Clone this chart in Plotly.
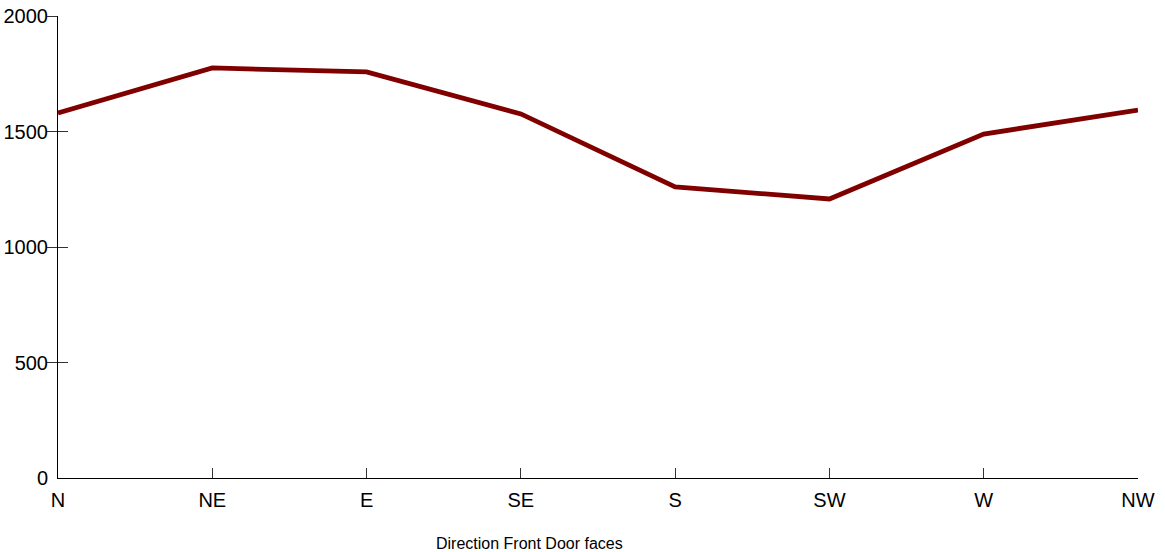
import plotly.graph_objects as go

directions = ["N", "NE", "E", "SE", "S", "SW", "W", "NW"]
values = [1580, 1775, 1758, 1576, 1260, 1208, 1489, 1593]
y_tick_vals = [0, 500, 1000, 1500, 2000]
y_tick_text = ["0", "500", "1000", "1500", "2000"]
y_mark_vals = [500, 1000, 1500, 2000]
x_title = "Direction Front Door faces"

FONT = "Liberation Sans, Arial, sans-serif"

fig = go.Figure()
fig.add_trace(go.Scatter(
    x=directions, y=values, mode="lines",
    line=dict(color="#800000", width=4.8),
    hoverinfo="x+y", showlegend=False,
))
# invisible helper traces so the overlay axes are drawn
fig.add_trace(go.Scatter(x=directions, y=values, yaxis="y2", mode="lines",
                         line=dict(width=0), opacity=0, hoverinfo="skip", showlegend=False))
fig.add_trace(go.Scatter(x=directions, y=values, yaxis="y3", mode="lines",
                         line=dict(width=0), opacity=0, hoverinfo="skip", showlegend=False))

fig.update_layout(
    width=1165, height=552,
    margin=dict(l=58, r=27, t=16, b=74, autoexpand=False),
    paper_bgcolor="white", plot_bgcolor="white",
    font=dict(family=FONT, size=20, color="black"),
    xaxis=dict(
        type="category", range=[0, len(directions) - 1], automargin=False,
        showgrid=False, zeroline=False,
        showline=True, linecolor="black", linewidth=1,
        ticks="inside", ticklen=10, tickcolor="#333", tickwidth=1,
        tickfont=dict(family=FONT, size=20, color="black"),
        ticklabelstandoff=4,
    ),
    yaxis=dict(
        range=[0, 2000], tickvals=y_tick_vals, ticktext=y_tick_text, automargin=False,
        showgrid=False, zeroline=False,
        showline=True, linecolor="black", linewidth=1,
        ticks="", ticklabelstandoff=5,
        tickfont=dict(family=FONT, size=20, color="black"),
    ),
    yaxis2=dict(
        range=[0, 2000], overlaying="y", anchor="x", side="left", automargin=False,
        tickvals=y_mark_vals, showticklabels=False,
        ticks="outside", ticklen=10, tickcolor="#333", tickwidth=1,
        showgrid=False, zeroline=False, showline=False,
    ),
    yaxis3=dict(
        range=[0, 2000], overlaying="y", anchor="x", side="left", automargin=False,
        tickvals=y_mark_vals, showticklabels=False,
        ticks="inside", ticklen=10, tickcolor="#333", tickwidth=1,
        showgrid=False, zeroline=False, showline=False,
    ),
    annotations=[dict(
        text=x_title, xref="paper", yref="paper",
        x=0.437, y=-0.142, xanchor="center", yanchor="middle",
        showarrow=False, font=dict(family=FONT, size=16, color="black"),
    )],
)

fig.write_html("out.html", config={"displayModeBar": False},
               post_script="document.body.style.margin='0';document.body.style.padding='0';")
